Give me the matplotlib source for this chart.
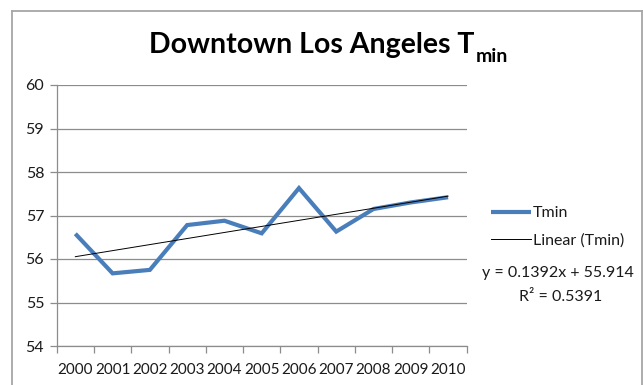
import matplotlib
matplotlib.use("Agg")
import matplotlib.pyplot as plt
from matplotlib.lines import Line2D
import numpy as np

years = ["2000", "2001", "2002", "2003", "2004", "2005", "2006", "2007", "2008", "2009", "2010"]
tmin = [56.58, 55.67, 55.75, 56.78, 56.88, 56.59, 57.63, 56.63, 57.15, 57.30, 57.42]
slope = 0.1392
intercept = 55.914
r2 = 0.5391
yticks = [54, 55, 56, 57, 58, 59, 60]

plt.rcParams['font.family'] = ['Lato', 'DejaVu Sans']

fig = plt.figure(figsize=(6.43, 3.85), dpi=100)
fig.patch.set_facecolor('white')

# chart-area border (left, top, right)
border_col = '#a6a6a6'
fig.add_artist(Line2D([11.5/643, 11.5/643], [0, 1-10.5/385], transform=fig.transFigure, color=border_col, lw=1.3))
fig.add_artist(Line2D([11.5/643, 641.5/643], [1-10.5/385, 1-10.5/385], transform=fig.transFigure, color=border_col, lw=1.3))
fig.add_artist(Line2D([641.5/643, 641.5/643], [0, 1-10.5/385], transform=fig.transFigure, color=border_col, lw=1.3))

L, R, T, B = 56.7/643, 466.7/643, 1-85/385, 1-346/385
ax = fig.add_axes([L, B, R-L, T-B])

n = len(years)
x = np.arange(n)
ax.set_xlim(-0.5, n-0.5)
ax.set_ylim(54, 60)

grid_col = '#8c8c8c'
for yv in yticks:
    ax.axhline(yv, color=grid_col, lw=0.9, zorder=1)

ax.plot(x, tmin, color='#4a7ebb', lw=3.0, solid_joinstyle='miter', solid_capstyle='butt', zorder=3, label='Tmin')
xt = x + 1
ax.plot(x, slope*xt + intercept, color='black', lw=0.7, zorder=4, label='Linear (Tmin)')

for s in ['top', 'right']:
    ax.spines[s].set_visible(False)
for s in ['left', 'bottom']:
    ax.spines[s].set_color(grid_col)
    ax.spines[s].set_linewidth(0.9)

ax.set_yticks(yticks)
ax.set_yticklabels([str(v) for v in yticks], fontsize=11.5, color='#1a1a1a')
ax.tick_params(axis='y', length=5, width=0.9, color=grid_col, pad=4)

ax.set_xticks(np.arange(-0.5, n, 1.0))
ax.set_xticklabels([])
ax.tick_params(axis='x', length=5, width=0.9, color=grid_col, direction='out')
ax.set_xticks(x, minor=True)
ax.set_xticklabels(years, minor=True, fontsize=11, color='#1a1a1a')
ax.tick_params(axis='x', which='minor', length=0, pad=12)

# title
t = fig.text(149/643, 1-53.5/385, "Downtown Los Angeles T", fontsize=20.5, fontweight='bold',
             ha='left', va='baseline', color='black')
fig.canvas.draw()
bb = t.get_window_extent()
fig.text(bb.x1/643 + 0.002, 1-61.5/385, "min", fontsize=14, fontweight='bold',
         ha='left', va='baseline', color='black')

leg = ax.legend(loc='center left', bbox_to_anchor=(491/643, 1-227/385), bbox_transform=fig.transFigure,
                frameon=False, fontsize=11.5, handlelength=2.5, handletextpad=0.1, labelspacing=0.85,
                borderaxespad=0, borderpad=0)
for txt in leg.get_texts():
    txt.set_color('#1a1a1a')

fig.text(558/643, 1-273/385, f"y = {slope}x + {intercept}", fontsize=11.5, ha='center', va='center', color='#1a1a1a')
fig.text(561/643, 1-297/385, f"R\u00b2 = {r2}", fontsize=11.5, ha='center', va='center', color='#1a1a1a')

fig.savefig("out.png", dpi=100, facecolor='white')
